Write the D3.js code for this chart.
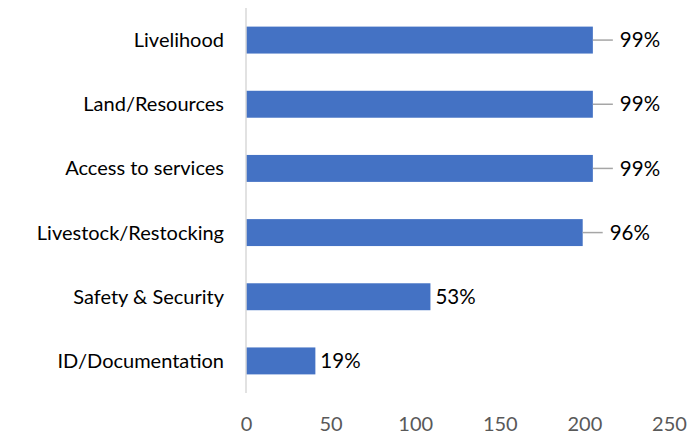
<!DOCTYPE html>
<html>
<head>
<meta charset="utf-8">
<script src="https://cdn.jsdelivr.net/npm/d3@7"></script>
<style>
  body { margin: 0; background: #fff; }
  svg { display: block; font-family: Lato, "Open Sans", sans-serif; }
</style>
</head>
<body>
<svg id="chart"></svg>
<script>
const categories = ["Livelihood", "Land/Resources", "Access to services", "Livestock/Restocking", "Safety & Security", "ID/Documentation"];
const values = [205, 205, 205, 199, 109, 41];
const percentLabels = ["99%", "99%", "99%", "96%", "53%", "19%"];
const xTicks = [0, 50, 100, 150, 200, 250];

const W = 690, H = 435;
const margin = {top: 8, right: 21, bottom: 42, left: 246};

const data = categories.map((c, i) => ({name: c, value: values[i], label: percentLabels[i]}));

const svg = d3.select("#chart").attr("width", W).attr("height", H);

const x = d3.scaleLinear().domain([0, 250]).range([margin.left, W - margin.right]);
const y = d3.scaleBand()
  .domain(categories)
  .range([margin.top, H - margin.bottom])
  .paddingInner(0.58)
  .paddingOuter(0.29);

// bars
svg.selectAll("rect.bar")
  .data(data)
  .enter().append("rect")
  .attr("class", "bar")
  .attr("x", x(0))
  .attr("y", d => y(d.name))
  .attr("width", d => x(d.value) - x(0))
  .attr("height", y.bandwidth())
  .attr("fill", "#4472c4");

// vertical axis line
svg.append("line")
  .attr("x1", x(0)).attr("x2", x(0))
  .attr("y1", margin.top).attr("y2", H - margin.bottom)
  .attr("stroke", "#d9d9d9").attr("stroke-width", 1.5);

// category labels
svg.selectAll("text.cat")
  .data(data)
  .enter().append("text")
  .attr("class", "cat")
  .attr("x", x(0) - 22)
  .attr("y", d => y(d.name) + y.bandwidth() / 2)
  .attr("dy", "0.35em")
  .attr("text-anchor", "end")
  .attr("font-size", 20)
  .attr("fill", "#000")
  .text(d => d.name);

// x axis tick labels
const xAxis = svg.append("g")
  .attr("transform", `translate(0,${H - margin.bottom})`)
  .call(d3.axisBottom(x).tickValues(xTicks).tickSize(0).tickPadding(24));
xAxis.select(".domain").remove();
xAxis.selectAll("text")
  .attr("font-family", "Lato, 'Open Sans', sans-serif")
  .attr("font-size", 20)
  .attr("fill", "#595959");

// leader lines for labels pushed out
const leader = d => d.value > 150;
svg.selectAll("line.leader")
  .data(data.filter(leader))
  .enter().append("line")
  .attr("class", "leader")
  .attr("x1", d => x(d.value))
  .attr("x2", d => x(d.value) + 20)
  .attr("y1", d => y(d.name) + y.bandwidth() / 2)
  .attr("y2", d => y(d.name) + y.bandwidth() / 2)
  .attr("stroke", "#a6a6a6").attr("stroke-width", 1.5);

// value labels
svg.selectAll("text.val")
  .data(data)
  .enter().append("text")
  .attr("class", "val")
  .attr("x", d => x(d.value) + (leader(d) ? 27 : 5))
  .attr("y", d => y(d.name) + y.bandwidth() / 2)
  .attr("dy", "0.35em")
  .attr("font-size", 20.5)
  .attr("fill", "#000")
  .text(d => d.label);
</script>
</body>
</html>
